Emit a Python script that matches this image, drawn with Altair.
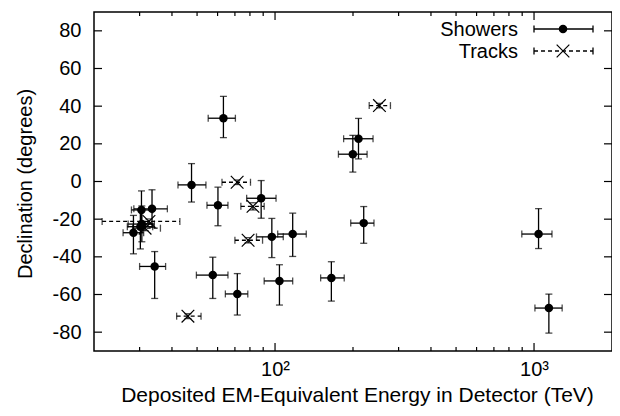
import altair as alt
import pandas as pd

# ---------------- data ----------------
# Showers: deposited energy (TeV), energy low/high, declination (deg), dec low/high
shower_E = [47.6, 117, 165, 28.4, 34.3, 63.2, 97.2, 88.4, 104, 1041, 57.5, 30.6,
            199.7, 71.5, 1141, 30.2, 220, 30.5, 33.5, 210, 60.2]
shower_Elo = [42.2, 102.4, 150, 25.9, 30.0, 55.2, 84.8, 77.7, 90.8, 897, 49.7, 27.1,
              175.7, 64.3, 1008, 26.9, 196, 27.9, 28.5, 184, 54.6]
shower_Ehi = [54.1, 132, 185, 31.1, 37.8, 70.3, 107.6, 100.9, 117, 1173, 65.8, 34.2,
              226.7, 78.5, 1284, 33.7, 241, 33.7, 38.4, 239, 65.8]
shower_dec = [-1.8, -27.9, -51.2, -27.2, -45.1, 33.6, -29.4, -8.9, -52.8, -27.9, -49.7, -22.6,
              14.5, -59.7, -67.2, -24.0, -22.1, -15.1, -14.5, 22.7, -12.6]
shower_dlo = [-10.9, -39.8, -63.5, -38.4, -62.1, 23.3, -40.4, -19.5, -65.6, -35.6, -62.1, -32.0,
              5.0, -70.9, -80.5, -35.8, -32.8, -25.0, -24.4, 12.0, -23.5]
shower_dhi = [9.5, -16.8, -42.6, -18.0, -37.2, 45.2, -19.6, 0.5, -44.2, -14.4, -40.2, -13.0,
              24.5, -48.9, -59.8, -15.0, -13.3, -5.0, -4.4, 33.5, -3.0]

# Tracks
track_E = [78.7, 71.4, 32.6, 253, 31.5, 82.2, 46.1]
track_Elo = [70.0, 62.4, 21.5, 231, 28.2, 73.8, 41.7]
track_Ehi = [89.5, 80.4, 42.9, 279, 36.1, 90.8, 51.8]
track_dec = [-31.2, -0.4, -21.2, 40.3, -24.8, -13.2, -71.5]
track_dlo = [-32.6, -1.6, -22.5, 39.1, -26.1, -15.1, -72.8]
track_dhi = [-29.8, 0.8, -19.9, 41.5, -23.5, -11.3, -70.2]

legend_labels = ["Showers", "Tracks"]

x_major = [100, 1000]
x_minor = [30, 40, 50, 60, 70, 80, 90, 200, 300, 400, 500, 600, 700, 800, 900]
y_ticks = [-80, -60, -40, -20, 0, 20, 40, 60, 80]

W, H = 518, 339
FONT = "Liberation Sans"
FS = 20

showers = pd.DataFrame({"E": shower_E, "Elo": shower_Elo, "Ehi": shower_Ehi,
                        "dec": shower_dec, "dlo": shower_dlo, "dhi": shower_dhi})
tracks = pd.DataFrame({"E": track_E, "Elo": track_Elo, "Ehi": track_Ehi,
                       "dec": track_dec, "dlo": track_dlo, "dhi": track_dhi})

xs = alt.Scale(type="log", domain=[20, 2000], nice=False)
ys = alt.Scale(domain=[-90, 90], nice=False)

x_axis = alt.Axis(values=x_major, labelExpr="datum.value == 100 ? '10²' : '10³'",
                  title="Deposited EM-Equivalent Energy in Detector (TeV)",
                  ticks=False, tickSize=0, domain=False, grid=False, labelPadding=8,
                  labelFlush=False, titleY=50, titleX=W / 2 + 4, titleAlign="center",
                  titleBaseline="alphabetic", titleFontSize=21)
y_axis = alt.Axis(values=y_ticks, labelExpr="toString(datum.value)",
                  title="Declination (degrees)", ticks=False, tickSize=0, domain=False,
                  grid=False, labelPadding=13, titleX=-69, titleY=H / 2 + 2,
                  titleBaseline="middle", titleAlign="center", titleAngle=270)


def X(field):
    return alt.X(field, type="quantitative", scale=xs, axis=x_axis)


def Y(field):
    return alt.Y(field, type="quantitative", scale=ys, axis=y_axis)


SW = 1.3
CAP = 7


def error_layers(df, dash):
    base = alt.Chart(df)
    extra = {"strokeDash": dash} if dash else {}
    h = base.mark_rule(color="black", strokeWidth=SW, **extra).encode(
        x=X("Elo"), x2="Ehi", y=Y("dec"))
    v = base.mark_rule(color="black", strokeWidth=SW, **extra).encode(
        x=X("E"), y=Y("dlo"), y2="dhi")
    c1 = base.mark_tick(color="black", orient="vertical", size=CAP, thickness=SW).encode(
        x=X("Elo"), y=Y("dec"))
    c2 = base.mark_tick(color="black", orient="vertical", size=CAP, thickness=SW).encode(
        x=X("Ehi"), y=Y("dec"))
    c3 = base.mark_tick(color="black", orient="horizontal", size=CAP, thickness=SW).encode(
        x=X("E"), y=Y("dlo"))
    c4 = base.mark_tick(color="black", orient="horizontal", size=CAP, thickness=SW).encode(
        x=X("E"), y=Y("dhi"))
    return [h, v, c1, c2, c3, c4]


XPATH = "M-1,-1L1,1M-1,1L1,-1"

layers = []
layers += error_layers(showers, None)
layers += error_layers(tracks, [4, 3])
layers.append(alt.Chart(showers).mark_circle(color="black", size=72, opacity=1).encode(
    x=X("E"), y=Y("dec")))
layers.append(alt.Chart(tracks).mark_point(shape=XPATH, color="black", size=160,
                                           strokeWidth=1.2, filled=False, opacity=1).encode(
    x=X("E"), y=Y("dec")))

# inward ticks (bottom/top, left/right)
minor_df = pd.DataFrame({"t": x_minor})
major_df = pd.DataFrame({"t": x_major})
yt_df = pd.DataFrame({"t": y_ticks})
for d, ln in [(minor_df, 4), (major_df, 8)]:
    layers.append(alt.Chart(d).mark_rule(color="black", strokeWidth=1.2).encode(
        x=X("t"), y=alt.value(H), y2=alt.value(H - ln)))
    layers.append(alt.Chart(d).mark_rule(color="black", strokeWidth=1.2).encode(
        x=X("t"), y=alt.value(0), y2=alt.value(ln)))
layers.append(alt.Chart(yt_df).mark_rule(color="black", strokeWidth=1.2).encode(
    y=Y("t"), x=alt.value(0), x2=alt.value(8)))
layers.append(alt.Chart(yt_df).mark_rule(color="black", strokeWidth=1.2).encode(
    y=Y("t"), x=alt.value(W), x2=alt.value(W - 8)))

# legend (drawn in the top-right corner)
LX_TEXT, LX0, LX1, LXS = 424, 440, 499, 469
for i, lab in enumerate(legend_labels):
    ly = 17 + 22 * i
    one = pd.DataFrame({"label": [lab]})
    dash = {"strokeDash": [4, 3]} if i == 1 else {}
    layers.append(alt.Chart(one).mark_text(align="right", baseline="middle", font=FONT,
                                           fontSize=FS, color="black").encode(
        text="label:N", x=alt.value(LX_TEXT), y=alt.value(ly + 1)))
    layers.append(alt.Chart(one).mark_rule(color="black", strokeWidth=SW, **dash).encode(
        x=alt.value(LX0), x2=alt.value(LX1), y=alt.value(ly)))
    for cx in (LX0, LX1):
        layers.append(alt.Chart(one).mark_rule(color="black", strokeWidth=SW).encode(
            x=alt.value(cx), y=alt.value(ly - 3.5), y2=alt.value(ly + 3.5)))
    if i == 0:
        layers.append(alt.Chart(one).mark_circle(color="black", size=72, opacity=1).encode(
            x=alt.value(LXS), y=alt.value(ly)))
    else:
        layers.append(alt.Chart(one).mark_point(shape=XPATH, color="black", size=160,
                                               strokeWidth=1.2, filled=False, opacity=1).encode(
            x=alt.value(LXS), y=alt.value(ly)))

chart = alt.layer(*layers).properties(
    width=W, height=H,
    autosize=alt.AutoSizeParams(type="none"),
    padding={"left": 86, "top": 4, "right": 0, "bottom": 57},
).configure(font=FONT, background="white").configure_view(
    stroke="black", strokeWidth=1.5
).configure_axis(
    labelFont=FONT, titleFont=FONT, labelFontSize=FS, titleFontSize=FS,
    labelColor="black", titleColor="black", titleFontWeight="normal",
)

chart.save("out.html", embed_options={"renderer": "svg", "actions": False})
